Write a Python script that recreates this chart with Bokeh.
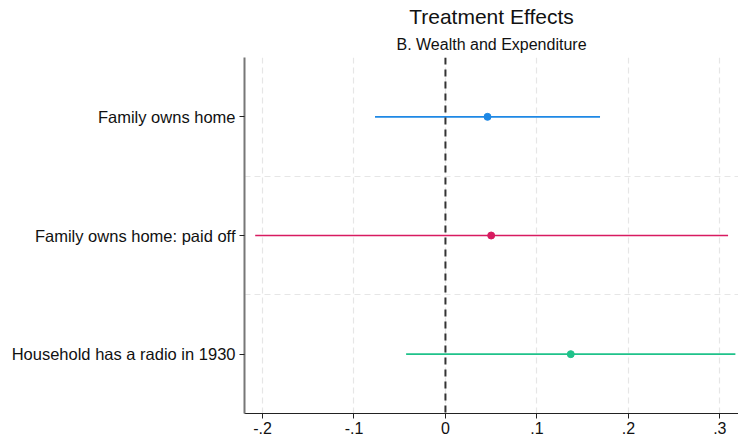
from bokeh.plotting import figure
from bokeh.models import Title, Span, FixedTicker, Range1d
from bokeh.embed import file_html
from bokeh.resources import INLINE

labels = ["Family owns home", "Family owns home: paid off", "Household has a radio in 1930"]
estimates = [0.046, 0.050, 0.137]
ci_low = [-0.077, -0.208, -0.043]
ci_high = [0.169, 0.309, 0.317]
colors = ["#1E88E5", "#D81B60", "#1FC28A"]
xticks = [-0.2, -0.1, 0.0, 0.1, 0.2, 0.3]
xtick_labels = ["-.2", "-.1", "0", ".1", ".2", ".3"]

n = len(labels)
ypos = [n - i for i in range(n)]

FONT = "Liberation Sans"

p = figure(width=738, height=436, output_backend="svg", toolbar_location=None,
           x_range=Range1d(-0.2197, 0.3204), y_range=Range1d(0.5, n + 0.5),
           min_border_left=244, min_border_right=0, min_border_top=0, min_border_bottom=0,
           background_fill_color="white", border_fill_color="white")
p.outline_line_color = None

p.add_layout(Title(text="B. Wealth and Expenditure", align="center", text_font=FONT,
                   text_font_size="16px", text_font_style="normal", text_color="#111111",
                   standoff=9), "above")
p.add_layout(Title(text="Treatment Effects", align="center", text_font=FONT,
                   text_font_size="21px", text_font_style="normal", text_color="#111111",
                   standoff=4), "above")

# grid
p.xgrid.ticker = FixedTicker(ticks=xticks)
p.xgrid.grid_line_color = "#e6e6e6"
p.xgrid.grid_line_dash = "6 4"
p.xgrid.grid_line_width = 1.2
p.ygrid.ticker = FixedTicker(ticks=[1.5, 2.5])
p.ygrid.grid_line_color = "#e6e6e6"
p.ygrid.grid_line_dash = "6 4"
p.ygrid.grid_line_width = 1.2

# axes
p.xaxis.ticker = FixedTicker(ticks=xticks)
p.xaxis.major_label_overrides = {t: l for t, l in zip(xticks, xtick_labels)}
p.xaxis.major_label_text_font = FONT
p.xaxis.major_label_text_font_size = "16px"
p.xaxis.major_label_text_color = "#111111"
p.xaxis.axis_line_color = "#222222"
p.xaxis.major_tick_line_color = "#222222"
p.xaxis.major_tick_out = 5
p.xaxis.major_tick_in = 0
p.xaxis.minor_tick_line_color = None
p.xaxis.major_label_standoff = 3

p.yaxis.ticker = FixedTicker(ticks=ypos)
p.yaxis.major_label_overrides = {y: l for y, l in zip(ypos, labels)}
p.yaxis.major_label_text_font = FONT
p.yaxis.major_label_text_font_size = "16.5px"
p.yaxis.major_label_text_color = "#111111"
p.yaxis.axis_line_color = "#777777"
p.yaxis.axis_line_width = 2
p.yaxis.major_tick_line_color = "#222222"
p.yaxis.major_tick_out = 5
p.yaxis.major_tick_in = 0
p.yaxis.minor_tick_line_color = None
p.yaxis.major_label_standoff = 4

# zero line
p.add_layout(Span(location=0, dimension="height", line_color="#333333",
                  line_width=2, line_dash="7 5"))

for y, est, lo, hi, c in zip(ypos, estimates, ci_low, ci_high, colors):
    p.segment(x0=[lo], y0=[y], x1=[hi], y1=[y], line_color=c, line_width=1.6)
    p.scatter(x=[est], y=[y], size=7, fill_color=c, line_color=c)

open("out.html", "w").write(file_html(p, INLINE))
